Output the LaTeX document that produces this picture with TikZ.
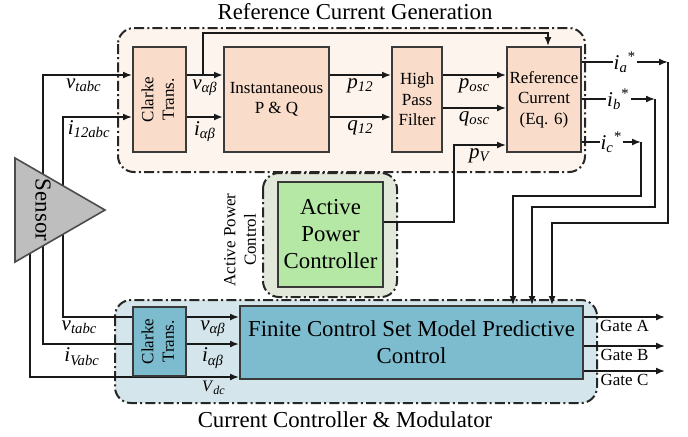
\documentclass[tikz,border=0pt]{standalone}
\usepackage{fontspec}
\setmainfont{Liberation Serif}
\usepackage{graphicx}
\usetikzlibrary{arrows.meta, positioning, calc}
\pgfdeclarelayer{back}
\pgfdeclarelayer{wires}
\pgfsetlayers{back,wires,main}

\definecolor{rcgfill}{HTML}{FDF4EE}
\definecolor{rcgbox}{HTML}{F9DDCA}
\definecolor{apcfill}{HTML}{E3E9DA}
\definecolor{apcbox}{HTML}{B5E8A5}
\definecolor{ccmfill}{HTML}{D4E6EB}
\definecolor{ccmbox}{HTML}{7DBCCF}
\definecolor{sensorfill}{HTML}{BEBEBE}
\definecolor{boxline}{HTML}{3A3A3A}

\newcommand{\sig}[2]{\textit{#1}\textsubscript{\textit{#2}}}
\newcommand{\istar}[1]{\textit{i}\textsubscript{\textit{#1}}\textsuperscript{*}}

\begin{document}
\begin{tikzpicture}[x=0.5pt, y=-0.5pt,
  box/.style={draw=boxline, line width=1pt, align=center, inner sep=1pt},
  rcg/.style={box, fill=rcgbox},
  ccm/.style={box, fill=ccmbox},
  grp/.style={draw=black!85, line width=1pt, dash pattern=on 5pt off 1.6pt on 1pt off 1.6pt, rounded corners=8pt},
  wire/.style={draw=black!90, line width=0.8pt, -{Latex[length=4.5pt,width=3.5pt]}},
  line/.style={draw=black!90, line width=0.8pt},
  lbl/.style={font=\fontsize{10.5}{12}\selectfont, inner sep=1.5pt},
  small/.style={font=\fontsize{8.5}{10.2}\selectfont},
  tiny/.style={font=\fontsize{8}{9.5}\selectfont},
  big/.style={font=\fontsize{11.4}{13.5}\selectfont}]

\useasboundingbox (0,0) rectangle (688,436);

% signal rows
\coordinate (ra) at (0,75);
\coordinate (rb) at (0,117);
\coordinate (rc) at (0,108);
\coordinate (rd) at (0,145);
\coordinate (rt) at (0,33);
\coordinate (re) at (0,317);
\coordinate (rf) at (0,344);
\coordinate (rg) at (0,377);
\coordinate (ri) at (0,223);
\coordinate (rj) at (0,207);
\coordinate (rk) at (0,196);

% blocks
\node[rcg, minimum width=26.5pt, minimum height=52.5pt, small] (clk1) at (159.5,99.5)
  {\rotatebox{90}{\begin{tabular}{@{}c@{}}Clarke\\Trans.\end{tabular}}};
\node[rcg, minimum width=52.5pt, minimum height=52.5pt, small] (pq) at (276.5,99.5) {Instantaneous\\P \& Q};
\node[rcg, minimum width=25pt, minimum height=52.5pt, small] (hpf) at (417,99.5) {High\\Pass\\Filter};
\node[rcg, minimum width=37pt, minimum height=52.5pt, small] (ref) at (544,99.5) {Reference\\Current\\(Eq. 6)};
\node[box, fill=apcbox, minimum width=52.5pt, minimum height=52.5pt, big] (apc) at (330.5,234.5) {Active\\Power\\Controller};
\node[ccm, minimum width=26.5pt, minimum height=34.5pt, small] (clk2) at (159.5,341.5)
  {\rotatebox{90}{\begin{tabular}{@{}c@{}}Clarke\\Trans.\end{tabular}}};
\node[ccm, minimum width=171.5pt, minimum height=36.5pt, big] (fcs) at (411.5,342.5) {Finite Control Set Model Predictive\\Control};

% sensor
\filldraw[fill=sensorfill, draw=black!70, line width=0.8pt] (15,158) -- (105,210) -- (15,262) -- cycle;
\node[rotate=-90, big] (sensor) at (43,210) {Sensor};

% group titles
\node[big] (rcgt) at (355,12) {Reference Current Generation};
\node[big] (ccmt) at (345,420) {Current Controller \& Modulator};
\node[rotate=90, small, align=center] (apct) at (240,240) {Active Power\\Control};

\begin{pgfonlayer}{back}
\draw[grp, fill=rcgfill] (118,28) rectangle (585,172);
\draw[grp, fill=apcfill] (263,173) rectangle (397,297);
\draw[grp, fill=ccmfill] (115,300) rectangle (597,403);
\end{pgfonlayer}

\begin{pgfonlayer}{wires}
\coordinate (s1) at (43,210);
\coordinate (s2) at (63,210);
\coordinate (s3) at (30,210);
% sensor to reference current generation
\draw[wire] (s1) |- (clk1.west |- ra) node[lbl, pos=0.73, below] {\sig{v}{tabc}};
\draw[wire] (s2) |- (clk1.west |- rb) node[lbl, pos=0.69, below] {\sig{i}{12abc}};
\draw[wire, line width=1.4pt] (clk1.east |- ra) -- (pq.west |- ra) node[lbl, midway, below] {\sig{v}{αβ}};
\draw[wire, line width=1.4pt] (clk1.east |- rb) -- (pq.west |- rb) node[lbl, midway, below] {\sig{i}{αβ}};
\coordinate (br) at ($(clk1.east |- ra)+(16,0)$);
\coordinate (rn) at ($(ref.north)+(4,0)$);
\draw[wire] (br) |- (rn |- rt) -- (rn);
\draw[wire] (pq.east |- ra) -- (hpf.west |- ra) node[lbl, midway, below] {\sig{p}{12}};
\draw[wire] (pq.east |- rb) -- (hpf.west |- rb) node[lbl, midway, below] {\sig{q}{12}};
\draw[wire] (hpf.east |- ra) -- (ref.west |- ra) node[lbl, midway, below] {\sig{p}{osc}};
\draw[wire] (hpf.east |- rc) -- (ref.west |- rc) node[lbl, midway, below] {\sig{q}{osc}};
\coordinate (ap) at ($(apc.east)+(0,-12.5)$);
\coordinate (pv) at (454,0);
\draw[wire] (ap) -| (pv |- rd) -- (ref.west |- rd) node[lbl, midway, below] {\sig{p}{V}};
% reference currents
\coordinate (oa) at (668,62);
\coordinate (ob) at (655,99);
\coordinate (oc) at (641,142);
\draw[wire] (ref.east |- oa) -- node[lbl, fill=white, inner sep=0.5pt] {\istar{a}} (oa);
\draw[wire] (ref.east |- ob) -- node[lbl, fill=white, inner sep=0.5pt] {\istar{b}} (ob);
\draw[wire] (ref.east |- oc) -- node[lbl, fill=white, inner sep=0.5pt] {\istar{c}} (oc);
\coordinate (fa) at ($(fcs.north)+(140.5,0)$);
\coordinate (fb) at ($(fcs.north)+(120.5,0)$);
\coordinate (fc) at ($(fcs.north)+(101.5,0)$);
\draw[wire] (oa) |- (fa |- ri) -- (fa);
\draw[wire] (ob) |- (fb |- rj) -- (fb);
\draw[wire] (oc) |- (fc |- rk) -- (fc);
% sensor to current controller
\draw[line] (s2) |- (clk2.west |- re) node[lbl, pos=0.62, below] {\sig{v}{tabc}};
\draw[line] (s1) |- (clk2.west |- rf) node[lbl, pos=0.72, below] {\sig{i}{Vabc}};
\draw[wire] (s3) |- (fcs.west |- rg) node[pos=0.94, below, tiny, inner sep=1.5pt] {\sig{V}{dc}};
\draw[wire] (clk2.east |- re) -- (fcs.west |- re) node[lbl, midway, below] {\sig{v}{αβ}};
\draw[wire] (clk2.east |- rf) -- (fcs.west |- rf) node[lbl, midway, below] {\sig{i}{αβ}};
% gate signals
\coordinate (ga) at (665,317);
\coordinate (gb) at (665,346);
\coordinate (gc) at (665,371);
\draw[wire] (fcs.east |- ga) -- (ga) node[small, midway, below, inner sep=1pt] {Gate A};
\draw[wire] (fcs.east |- gb) -- (gb) node[small, midway, below, inner sep=1pt] {Gate B};
\draw[wire] (fcs.east |- gc) -- (gc) node[small, midway, below, inner sep=1pt] {Gate C};
\end{pgfonlayer}
\end{tikzpicture}
\end{document}
